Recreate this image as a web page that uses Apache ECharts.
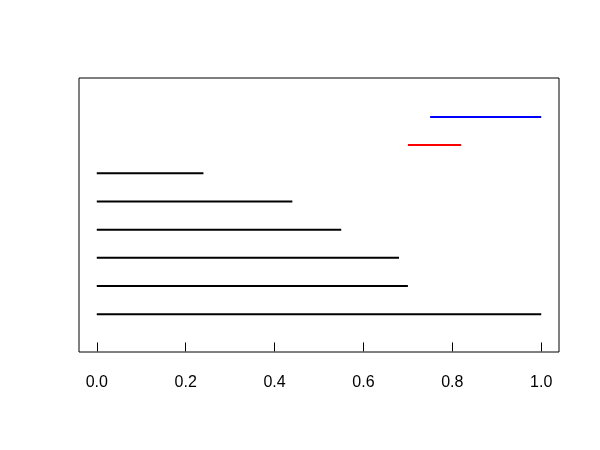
<!DOCTYPE html>
<html>
<head>
<meta charset="utf-8">
<script src="https://cdn.jsdelivr.net/npm/echarts@6/dist/echarts.min.js"></script>
<style>html,body{margin:0;padding:0;background:#fff}#c{width:600px;height:450px}</style>
</head>
<body>
<div id="c"></div>
<script>
// Data
var rows = [1, 2, 3, 4, 5, 6, 7, 8];
var segStart = [0.00, 0.00, 0.00, 0.00, 0.00, 0.00, 0.70, 0.75];
var segEnd   = [1.00, 0.70, 0.68, 0.55, 0.44, 0.24, 0.82, 1.00];
var xTicks = [0.0, 0.2, 0.4, 0.6, 0.8, 1.0];

// Styles
var segColors = ['#000', '#000', '#000', '#000', '#000', '#000', '#ff0000', '#0000ff'];

var series = rows.map(function (r, i) {
  return {
    type: 'line',
    data: [[segStart[i], r], [segEnd[i], r]],
    symbol: 'none',
    silent: true,
    animation: false,
    lineStyle: { color: segColors[i], width: 2 }
  };
});

var chart = echarts.init(document.getElementById('c'), null, { renderer: 'canvas' });
chart.setOption({
  animation: false,
  backgroundColor: '#fff',
  grid: { left: 79, right: 41, top: 78, bottom: 98, show: true, borderColor: '#000', borderWidth: 1, backgroundColor: 'transparent' },
  xAxis: {
    type: 'value', min: -0.04, max: 1.04,
    axisLine: { show: false },
    splitLine: { show: false },
    axisTick: { show: true, length: 9, lineStyle: { color: '#000', width: 1 },
      customValues: xTicks },
    axisLabel: { show: true, color: '#000', fontSize: 16, fontFamily: 'Liberation Sans, Arial, sans-serif', margin: 23,
      customValues: xTicks,
      formatter: function (v) { return v.toFixed(1); } }
  },
  yAxis: {
    type: 'value', min: -0.34, max: 9.38,
    show: false
  },
  series: series
});
</script>
</body>
</html>
